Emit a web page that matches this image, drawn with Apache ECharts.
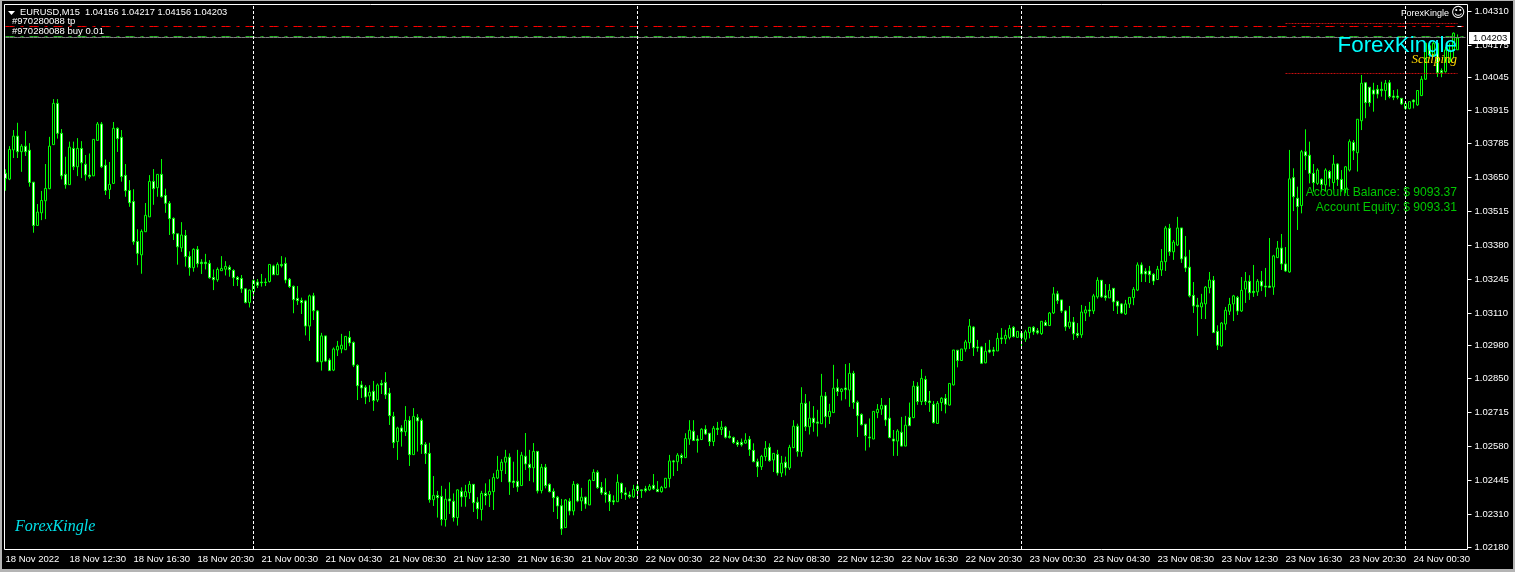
<!DOCTYPE html>
<html>
<head>
<meta charset="utf-8">
<style>
  html, body { margin: 0; padding: 0; background: #000; }
  #chart { width: 1515px; height: 572px; }
</style>
<script src="https://cdn.jsdelivr.net/npm/echarts@6/dist/echarts.min.js"></script>
</head>
<body>
<div id="chart"></div>
<script>
// EURUSD M15 bars, in points above basePrice: [open, close, low, high]
const basePrice = 1.02;
const pointSize = 0.00001;
const barsInPoints = [
  [1665,1645,1596,1681],[1642,1760,1638,1773],[1758,1813,1726,1837],[1813,1751,1726,1866],[1751,1773,1671,1781],[1773,1751,1734,1833],[1757,1629,1612,1785],[1630,1458,1429,1630],
  [1458,1511,1457,1543],[1508,1557,1479,1595],[1556,1605,1483,1702],[1604,1773,1602,1810],[1779,1943,1779,1960],[1943,1824,1803,1960],[1824,1655,1641,1841],[1661,1620,1604,1731],
  [1620,1769,1620,1791],[1764,1691,1678,1791],[1691,1764,1654,1805],[1764,1707,1646,1793],[1701,1659,1636,1738],[1658,1652,1644,1744],[1655,1800,1654,1800],[1796,1861,1795,1869],
  [1861,1691,1686,1869],[1697,1597,1579,1720],[1601,1621,1563,1710],[1625,1844,1624,1869],[1844,1803,1750,1848],[1808,1652,1632,1837],[1657,1596,1572,1702],[1597,1548,1532,1638],
  [1553,1393,1381,1602],[1394,1347,1300,1443],[1341,1434,1266,1442],[1433,1498,1433,1547],[1492,1633,1492,1658],[1633,1604,1540,1682],[1608,1661,1572,1661],[1661,1572,1569,1722],
  [1577,1546,1508,1604],[1546,1485,1420,1555],[1486,1425,1400,1490],[1425,1373,1302,1425],[1369,1420,1353,1471],[1418,1334,1294,1440],[1334,1290,1258,1355],[1290,1363,1274,1367],
  [1363,1306,1291,1376],[1312,1306,1265,1324],[1312,1306,1283,1345],[1307,1250,1246,1320],[1251,1242,1201,1283],[1242,1283,1234,1291],[1278,1287,1278,1336],[1284,1295,1259,1316],
  [1292,1282,1254,1300],[1279,1250,1217,1284],[1251,1243,1217,1257],[1247,1206,1190,1261],[1206,1152,1148,1206],[1152,1201,1132,1204],[1194,1239,1168,1243],[1233,1220,1209,1245],
  [1233,1230,1215,1265],[1233,1231,1217,1248],[1235,1303,1231,1303],[1297,1262,1261,1302],[1262,1303,1261,1311],[1303,1298,1291,1336],[1307,1241,1228,1331],[1244,1215,1209,1249],
  [1216,1163,1109,1219],[1168,1159,1142,1217],[1160,1151,1106,1171],[1158,1058,1021,1162],[1058,1178,999,1183],[1178,1119,1082,1190],[1118,916,916,1122],[916,1019,881,1031],
  [1019,919,915,1019],[923,881,881,930],[883,967,879,973],[963,978,939,999],[967,982,950,1027],[964,1017,963,1017],[1013,991,978,1038],[993,903,895,997],
  [902,821,764,906],[824,812,772,840],[815,776,748,823],[780,795,756,823],[799,762,721,840],[764,824,756,830],[830,824,788,844],[834,785,768,875],
  [791,702,665,812],[699,595,573,717],[599,653,526,658],[653,638,579,664],[638,683,621,740],[683,547,502,700],[547,699,547,732],[695,681,559,708],
  [683,587,550,691],[588,551,510,597],[552,368,356,594],[368,385,343,462],[385,376,297,403],[381,289,265,423],[289,370,261,411],[371,363,311,437],
  [362,297,281,393],[297,407,265,409],[401,379,340,417],[380,400,340,427],[396,429,371,442],[429,356,319,429],[358,332,291,378],[329,393,285,403],
  [393,384,346,433],[388,401,339,449],[400,456,327,473],[454,485,450,542],[484,517,438,529],[517,537,470,566],[537,438,387,552],[442,436,415,519],
  [441,419,399,566],[424,545,423,558],[541,510,486,633],[509,495,442,566],[495,560,437,593],[560,403,393,560],[404,497,393,510],[497,424,413,510],
  [429,400,397,433],[401,376,319,413],[378,343,291,383],[344,252,228,371],[257,367,257,370],[362,323,306,374],[323,429,306,442],[429,363,358,433],
  [363,378,323,415],[378,351,332,380],[347,445,347,449],[444,477,442,489],[477,416,411,485],[417,395,387,438],[397,388,356,453],[389,360,323,403],
  [364,359,347,385],[360,437,359,469],[432,396,371,436],[395,388,367,417],[387,380,373,401],[379,409,375,427],[404,421,373,430],[407,404,375,407],
  [411,404,397,423],[407,421,403,430],[425,411,407,470],[409,400,399,442],[400,417,396,423],[416,453,413,453],[452,522,417,546],[522,518,462,526],
  [519,545,482,553],[544,535,510,552],[535,611,534,632],[609,644,586,684],[640,603,601,684],[609,603,555,624],[607,648,605,652],[648,629,625,664],
  [632,599,581,632],[599,652,581,661],[652,647,625,677],[647,656,625,681],[656,616,611,661],[620,615,611,642],[615,595,590,619],[596,587,578,605],
  [596,586,579,611],[593,604,590,632],[608,567,542,621],[564,519,517,592],[519,499,458,531],[499,540,486,546],[539,572,522,601],[576,523,519,592],
  [526,552,478,552],[548,474,464,566],[474,513,458,542],[517,495,464,539],[494,576,486,586],[575,660,573,684],[660,559,539,670],[559,751,539,815],
  [751,658,641,788],[658,692,627,759],[692,674,638,740],[677,672,619,725],[670,780,669,868],[780,698,654,796],[698,719,669,749],[714,811,714,904],
  [813,798,780,848],[798,808,762,811],[812,805,767,907],[804,870,737,911],[870,754,729,880],[755,702,617,762],[707,666,663,711],[668,623,563,668],
  [617,613,576,691],[609,719,609,719],[714,727,692,748],[728,743,705,772],[743,685,661,743],[692,615,612,772],[609,601,542,645],[601,641,542,648],
  [636,581,579,697],[581,664,581,701],[695,662,662,754],[694,819,692,840],[819,758,745,835],[758,850,744,887],[846,758,744,860],[760,754,717,800],
  [747,674,671,760],[671,751,671,760],[754,771,720,775],[771,747,711,788],[744,830,742,830],[824,963,822,963],[962,921,894,962],[921,967,921,967],
  [967,995,956,1003],[992,1058,967,1086],[1054,972,939,1058],[975,971,956,1003],[975,910,907,979],[912,958,910,991],[963,955,950,1003],[963,958,939,975],
  [959,1009,959,1031],[1011,1007,987,1050],[1007,1021,987,1043],[1013,1049,1005,1062],[1053,1016,1013,1058],[1013,1037,1013,1037],[1029,1013,970,1036],[1006,1035,995,1043],
  [1032,1053,1009,1053],[1053,1035,1023,1058],[1039,1031,1025,1050],[1028,1077,1023,1077],[1073,1060,1058,1082],[1060,1110,1058,1114],[1110,1186,1106,1213],[1186,1159,1146,1198],
  [1162,1118,1110,1162],[1118,1055,1039,1122],[1055,1074,1047,1138],[1074,1027,1003,1094],[1029,1021,1011,1070],[1023,1114,1011,1142],[1110,1122,1078,1138],[1122,1118,1095,1154],
  [1118,1178,1106,1186],[1174,1240,1167,1252],[1240,1174,1170,1240],[1178,1171,1159,1225],[1170,1200,1170,1225],[1208,1154,1118,1208],[1156,1138,1106,1159],[1146,1110,1106,1149],
  [1106,1146,1102,1162],[1146,1172,1130,1172],[1171,1204,1141,1213],[1201,1301,1197,1311],[1301,1265,1233,1311],[1276,1265,1233,1288],[1277,1262,1229,1297],[1264,1237,1221,1268],
  [1243,1284,1241,1297],[1281,1315,1257,1364],[1314,1448,1277,1456],[1447,1353,1337,1464],[1353,1392,1321,1400],[1380,1448,1376,1492],[1448,1325,1309,1448],[1333,1289,1273,1416],
  [1292,1178,1172,1361],[1180,1138,1110,1233],[1141,1135,1019,1170],[1134,1150,1086,1186],[1146,1213,1086,1217],[1210,1241,1188,1273],[1240,1032,1032,1257],[1037,982,963,1061],
  [979,1070,976,1074],[1066,1121,1042,1134],[1117,1144,1102,1170],[1146,1178,1078,1182],[1172,1118,1102,1178],[1118,1200,1114,1253],[1205,1236,1150,1273],[1236,1190,1162,1260],
  [1196,1191,1174,1301],[1194,1236,1178,1245],[1236,1217,1197,1277],[1217,1213,1174,1289],[1217,1212,1209,1408],[1213,1337,1182,1341],[1330,1368,1329,1396],[1368,1305,1281,1424],
  [1305,1277,1273,1372],[1273,1643,1270,1758],[1648,1572,1515,1685],[1566,1533,1440,1612],[1537,1751,1506,1758],[1751,1735,1678,1840],[1737,1665,1625,1791],[1665,1628,1592,1702],
  [1625,1678,1619,1685],[1641,1621,1592,1645],[1619,1678,1592,1685],[1672,1645,1612,1678],[1628,1702,1599,1738],[1702,1641,1615,1705],[1641,1599,1592,1678],[1603,1691,1586,1694],
  [1678,1791,1672,1800],[1788,1755,1718,1797],[1747,1880,1672,1880],[1874,2023,1837,2056],[2025,1946,1884,2025],[2007,1946,1930,2007],[1996,1980,1910,2025],[1999,1980,1963,2016],
  [1999,1994,1970,2029],[1994,2023,1956,2036],[2025,1970,1963,2036],[1972,1967,1956,1996],[1972,1967,1959,1999],[1963,1941,1937,1963],[1923,1943,1917,1950],[1923,1950,1919,1950],
  [1956,1949,1923,1959],[1937,1994,1933,1996],[1974,2039,1972,2052],[2039,2182,2036,2182],[2172,2135,2120,2186],[2135,2182,2130,2190],[2182,2065,2048,2186],[2073,2065,2047,2082],
  [2069,2155,2065,2168],[2109,2155,2102,2182],[2155,2222,2122,2225],[2156,2203,2156,2217]
];
const emptyBarsAtEnd = 2;
const barsPerTimeLabel = 16;
const timeLabels = [
  '18 Nov 2022', '18 Nov 12:30', '18 Nov 16:30', '18 Nov 20:30',
  '21 Nov 00:30', '21 Nov 04:30', '21 Nov 08:30', '21 Nov 12:30', '21 Nov 16:30', '21 Nov 20:30',
  '22 Nov 00:30', '22 Nov 04:30', '22 Nov 08:30', '22 Nov 12:30', '22 Nov 16:30', '22 Nov 20:30',
  '23 Nov 00:30', '23 Nov 04:30', '23 Nov 08:30', '23 Nov 12:30', '23 Nov 16:30', '23 Nov 20:30',
  '24 Nov 00:30'
];
const priceTicks = [1.0431, 1.04175, 1.04045, 1.03915, 1.03785, 1.0365, 1.03515, 1.0338, 1.03245, 1.0311, 1.0298, 1.0285, 1.02715, 1.0258, 1.02445, 1.0231, 1.0218];
const dayStartBars = [62, 158, 254, 350];
const takeProfitPrice = 1.042486;
const buyPrice = 1.042088;
const bidPrice = 1.042049;
const rangeHighPrice = 1.042605;
const rangeLowPrice = 1.040618;
const rangeStartBar = 320;
const rangeEndBar = 363;

const uiFont = '"Liberation Sans", Arial, sans-serif';
const lime = '#00ff00';
const toPrice = (points) => +(basePrice + points * pointSize).toFixed(5);
const candles = barsInPoints.map((bar) => bar.map(toPrice));
const categories = Array.from({ length: candles.length + emptyBarsAtEnd }, (_, i) => String(i));

// flat price level between two bars
const levelSeries = (price, color, dash, from = 0, to = categories.length - 1) => ({
  type: 'line',
  silent: true,
  showSymbol: false,
  symbol: 'none',
  data: categories.map((_, i) => (i >= from && i <= to ? price : null)),
  lineStyle: { color, type: dash, width: 1 }
});

const text = (x, y, str, fill, size, extra) => ({
  type: 'text',
  z: 20,
  silent: true,
  x,
  y,
  style: Object.assign({ text: str, fill, font: size + 'px ' + uiFont, textVerticalAlign: 'middle' }, extra)
});
const edge = (x, y, width, height) => ({
  type: 'rect',
  z: 30,
  silent: true,
  shape: { x, y, width, height },
  style: { fill: '#b4b4b4' }
});

const chart = echarts.init(document.getElementById('chart'), null, { renderer: 'canvas' });
chart.setOption({
  animation: false,
  backgroundColor: '#000',
  grid: { left: 3.5, top: 4, width: 1464, height: 545 },
  xAxis: {
    type: 'category',
    data: categories,
    boundaryGap: true,
    axisLine: { show: false },
    axisTick: { alignWithLabel: true, interval: barsPerTimeLabel - 1, length: 3, lineStyle: { color: '#fff' } },
    axisLabel: {
      interval: barsPerTimeLabel - 1,
      align: 'left',
      margin: 5,
      color: '#fff',
      fontSize: 9.5,
      fontFamily: uiFont,
      formatter: (value, i) => timeLabels[i / barsPerTimeLabel] || ''
    },
    splitLine: { show: false }
  },
  yAxis: {
    type: 'value',
    position: 'right',
    min: 1.02172,
    max: 1.04338,
    axisLine: { show: false },
    axisTick: { show: true, length: 4, customValues: priceTicks, lineStyle: { color: '#fff' } },
    axisLabel: {
      customValues: priceTicks,
      margin: 7,
      color: '#fff',
      fontSize: 9.5,
      fontFamily: uiFont,
      formatter: (value) => value.toFixed(5)
    },
    splitLine: { show: false }
  },
  series: [
    {
      type: 'candlestick',
      data: candles,
      barWidth: 2,
      itemStyle: {
        color: '#000',
        color0: '#fff',
        borderColor: lime,
        borderColor0: lime,
        borderWidth: 1
      },
      markLine: {
        silent: true,
        symbol: 'none',
        label: { show: false },
        animation: false,
        data: dayStartBars.map((bar) => ({
          xAxis: bar,
          lineStyle: { color: '#fff', type: [3, 2], width: 1 }
        }))
      }
    },
    levelSeries(bidPrice, '#808080', 'solid'),
    levelSeries(takeProfitPrice, '#ff0000', [9, 6, 3, 6]),
    levelSeries(buyPrice, '#22b422', [9, 6, 3, 6]),
    levelSeries(rangeHighPrice, '#c81010', [2, 1], rangeStartBar, rangeEndBar),
    levelSeries(rangeLowPrice, '#c81010', [2, 1], rangeStartBar, rangeEndBar),
    levelSeries(takeProfitPrice, '#fff', 'solid', rangeEndBar, rangeEndBar + 1)
  ],
  graphic: [
    // chart frame and window edge
    { type: 'rect', z: 10, silent: true, shape: { x: 4.5, y: 4.5, width: 1463, height: 545 }, style: { fill: 'none', stroke: '#fff', lineWidth: 1 } },
    edge(0, 0, 1515, 1),
    edge(0, 569, 1515, 3),
    edge(0, 0, 2, 572),
    edge(1513, 0, 2, 572),
    // header
    { type: 'polygon', z: 20, silent: true, shape: { points: [[8, 11], [15, 11], [11.5, 15]] }, style: { fill: '#fff' } },
    text(20, 12.5, 'EURUSD,M15  1.04156 1.04217 1.04156 1.04203', '#fff', 9.3),
    text(12, 21, '#970280088 tp', '#fff', 9.5),
    text(12, 31, '#970280088 buy 0.01', '#fff', 9.5),
    text(1449, 13.5, 'ForexKingle', '#fff', 9, { textAlign: 'right' }),
    text(1451, 13.5, '\u263A', '#fff', 14, { font: '14px "DejaVu Sans"' }),
    // current price tag
    { type: 'rect', z: 25, silent: true, shape: { x: 1469, y: 32, width: 41, height: 12 }, style: { fill: '#fff' } },
    Object.assign(text(1473, 38.5, '1.04203', '#000', 9.5), { z: 26 }),
    // EA overlay
    text(1457, 46, 'ForexKingle', '#00ffff', 22.4, { textAlign: 'right' }),
    text(1457, 60, 'Scalping', '#ffd800', 13, { textAlign: 'right', font: 'italic 13px "Liberation Serif"' }),
    text(1457, 193, 'Account Balance: $ 9093.37', '#00c800', 12.1, { textAlign: 'right' }),
    text(1457, 208, 'Account Equity: $ 9093.31', '#00c800', 12.1, { textAlign: 'right' }),
    text(15, 527, 'ForexKingle', '#00e0e8', 16, { font: 'italic 16px "Liberation Serif"' })
  ]
});
</script>
</body>
</html>
